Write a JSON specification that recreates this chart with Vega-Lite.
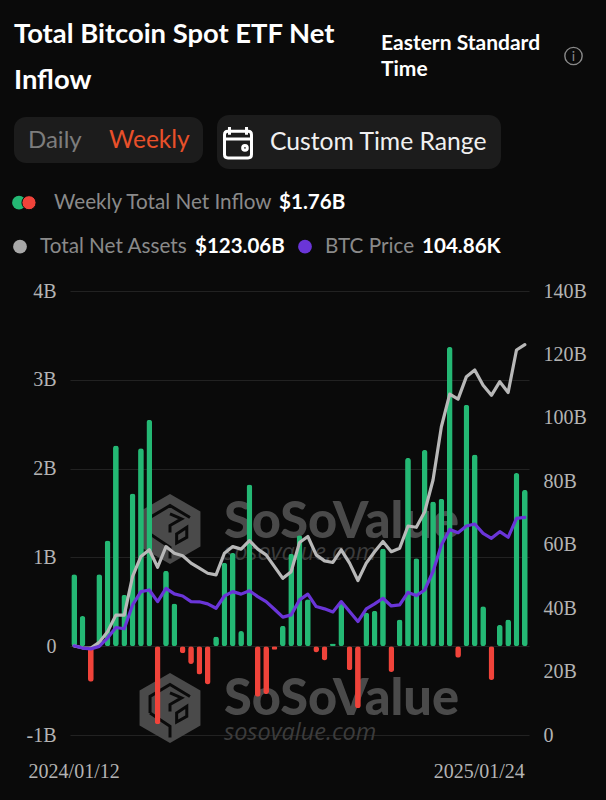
{
"$schema":"https://vega.github.io/schema/vega-lite/v6.json",
"width":459,"height":444,
"autosize":{"type":"none"},
"padding":{"left":70,"top":291,"right":77,"bottom":65},
"background":"#0a0a0a",
"config":{"view":{"stroke":null},"text":{"font":"Lato","baseline":"alphabetic","align":"left"}},
"datasets":{"weeks":[
{"week":"2024/01/12","flow":0.81,"assets":28.1,"price":43.0},
{"week":"2024/01/19","flow":0.34,"assets":27.5,"price":41.9},
{"week":"2024/01/26","flow":-0.40,"assets":27.4,"price":41.5},
{"week":"2024/02/02","flow":0.81,"assets":29.2,"price":42.7},
{"week":"2024/02/09","flow":1.19,"assets":32.6,"price":46.7},
{"week":"2024/02/16","flow":2.26,"assets":37.8,"price":51.8},
{"week":"2024/02/23","flow":0.58,"assets":37.8,"price":51.2},
{"week":"2024/03/01","flow":1.72,"assets":50.0,"price":62.7},
{"week":"2024/03/08","flow":2.23,"assets":56.3,"price":69.1},
{"week":"2024/03/15","flow":2.55,"assets":58.4,"price":69.9},
{"week":"2024/03/22","flow":-0.88,"assets":52.9,"price":64.3},
{"week":"2024/03/29","flow":0.85,"assets":59.4,"price":70.7},
{"week":"2024/04/05","flow":0.48,"assets":57.3,"price":68.0},
{"week":"2024/04/12","flow":-0.08,"assets":56.5,"price":67.0},
{"week":"2024/04/19","flow":-0.20,"assets":54.2,"price":64.3},
{"week":"2024/04/26","flow":-0.32,"assets":52.6,"price":64.2},
{"week":"2024/05/03","flow":-0.43,"assets":51.0,"price":63.2},
{"week":"2024/05/10","flow":0.11,"assets":50.5,"price":61.1},
{"week":"2024/05/17","flow":0.94,"assets":57.3,"price":67.0},
{"week":"2024/05/24","flow":1.05,"assets":59.4,"price":69.1},
{"week":"2024/05/31","flow":0.17,"assets":58.6,"price":67.9},
{"week":"2024/06/07","flow":1.82,"assets":61.3,"price":69.5},
{"week":"2024/06/14","flow":-0.57,"assets":58.6,"price":66.7},
{"week":"2024/06/21","flow":-0.54,"assets":56.8,"price":64.3},
{"week":"2024/06/28","flow":-0.04,"assets":53.1,"price":60.6},
{"week":"2024/07/05","flow":0.23,"assets":49.4,"price":56.8},
{"week":"2024/07/12","flow":1.04,"assets":51.5,"price":57.9},
{"week":"2024/07/19","flow":1.25,"assets":60.7,"price":65.1},
{"week":"2024/07/26","flow":0.53,"assets":62.6,"price":67.9},
{"week":"2024/08/02","flow":-0.07,"assets":56.8,"price":61.9},
{"week":"2024/08/09","flow":-0.16,"assets":54.9,"price":60.8},
{"week":"2024/08/16","flow":0.03,"assets":54.4,"price":59.3},
{"week":"2024/08/23","flow":0.48,"assets":58.4,"price":64.3},
{"week":"2024/08/30","flow":-0.27,"assets":54.2,"price":59.5},
{"week":"2024/09/06","flow":-0.70,"assets":48.7,"price":54.7},
{"week":"2024/09/13","flow":0.38,"assets":54.2,"price":60.8},
{"week":"2024/09/20","flow":0.40,"assets":57.8,"price":63.2},
{"week":"2024/09/27","flow":1.10,"assets":61.0,"price":65.9},
{"week":"2024/10/04","flow":-0.29,"assets":57.8,"price":62.2},
{"week":"2024/10/11","flow":0.30,"assets":58.9,"price":62.7},
{"week":"2024/10/18","flow":2.12,"assets":65.9,"price":68.7},
{"week":"2024/10/25","flow":0.99,"assets":65.5,"price":67.2},
{"week":"2024/11/01","flow":2.21,"assets":70.4,"price":69.9},
{"week":"2024/11/08","flow":1.63,"assets":80.4,"price":78.8},
{"week":"2024/11/15","flow":1.66,"assets":97.2,"price":91.6},
{"week":"2024/11/22","flow":3.37,"assets":107.5,"price":99.1},
{"week":"2024/11/29","flow":-0.13,"assets":105.9,"price":97.5},
{"week":"2024/12/06","flow":2.72,"assets":113.0,"price":100.7},
{"week":"2024/12/13","flow":2.16,"assets":115.1,"price":101.7},
{"week":"2024/12/20","flow":0.45,"assets":110.3,"price":97.2},
{"week":"2024/12/27","flow":-0.38,"assets":107.1,"price":94.8},
{"week":"2025/01/03","flow":0.24,"assets":111.4,"price":98.0},
{"week":"2025/01/10","flow":0.30,"assets":108.0,"price":95.3},
{"week":"2025/01/17","flow":1.95,"assets":121.4,"price":104.4},
{"week":"2025/01/24","flow":1.76,"assets":123.06,"price":104.86}
]},
"resolve":{"scale":{"y":"independent"},"axis":{"y":"independent"}},
"layer":[
{"data":{"values":[{"c":"logo"}]},"mark":{"type":"point","filled":true,"fill":"#4a4a4a","stroke":null,"opacity":1,"size":4900,"x":100,"y":238,"shape":"M0,-1L0.87,-0.5L0.87,0.5L0,1L-0.87,0.5L-0.87,-0.5Z"}},
{"data":{"values":[{"c":"logo"}]},"mark":{"type":"point","filled":true,"fill":"#4a4a4a","stroke":null,"opacity":1,"size":4900,"x":100,"y":417,"shape":"M0,-1L0.87,-0.5L0.87,0.5L0,1L-0.87,0.5L-0.87,-0.5Z"}},
{"data":{"values":[{"c":"logo"}]},"mark":{"type":"point","filled":false,"stroke":"#0a0a0a","strokeWidth":3,"opacity":1,"size":4900,"x":100,"y":238,"shape":"M-0.57,0.14L-0.57,-0.33L0,-0.67L0.57,-0.33M0,-0.43L0.33,-0.29L0,-0.1L0,0.1M-0.57,0.14L0,0.52L0,0.84M0.19,0.14L0.48,-0.05L0.48,0.24L0.19,0.4Z"}},
{"data":{"values":[{"c":"logo"}]},"mark":{"type":"point","filled":false,"stroke":"#0a0a0a","strokeWidth":3,"opacity":1,"size":4900,"x":100,"y":417,"shape":"M-0.57,0.14L-0.57,-0.33L0,-0.67L0.57,-0.33M0,-0.43L0.33,-0.29L0,-0.1L0,0.1M-0.57,0.14L0,0.52L0,0.84M0.19,0.14L0.48,-0.05L0.48,0.24L0.19,0.4Z"}},
{"data":{"values":[{"label":"SoSoValue"}]},"mark":{"type":"text","fontWeight":900,"fontSize":50.5,"fill":"#4a4a4a","x":154,"y":247},"encoding":{"text":{"field":"label"}}},
{"data":{"values":[{"label":"SoSoValue"}]},"mark":{"type":"text","fontWeight":900,"fontSize":50.5,"fill":"#4a4a4a","x":154,"y":424},"encoding":{"text":{"field":"label"}}},
{"data":{"values":[{"label":"sosovalue.com"}]},"mark":{"type":"text","font":"Open Sans","fontStyle":"italic","fontSize":23.5,"fill":"#3c3c3c","x":154,"y":269},"encoding":{"text":{"field":"label"}}},
{"data":{"values":[{"label":"sosovalue.com"}]},"mark":{"type":"text","font":"Open Sans","fontStyle":"italic","fontSize":23.5,"fill":"#3c3c3c","x":154,"y":449},"encoding":{"text":{"field":"label"}}},
{"data":{"name":"weeks"},"mark":{"type":"bar","cornerRadius":2.8},
 "encoding":{
  "x":{"field":"week","type":"ordinal","sort":null,"title":null,"scale":{"type":"band","paddingInner":0.31,"paddingOuter":0.155},
   "axis":{"values":["2024/01/12","2025/01/24"],"domain":false,"ticks":false,"labelAngle":0,"labelFont":"Liberation Serif","labelFontSize":20,"labelColor":"#b4b4b4","labelPadding":26,"labelOverlap":false,"labelBound":false,"labelAlign":{"condition":{"test":"datum.value==='2025/01/24'","value":"right"},"value":"center"},"grid":false}},
  "y":{"field":"flow","type":"quantitative","title":null,"scale":{"domain":[-1,4],"nice":false},
   "axis":{"orient":"left","values":[-1,0,1,2,3,4],"labelExpr":"datum.value===0?'0':datum.value+'B'","domain":false,"ticks":false,"labelFont":"Liberation Serif","labelFontSize":20,"labelColor":"#b4b4b4","labelPadding":14,"grid":true,"gridColor":"#222222","gridWidth":1.2}},
  "color":{"condition":{"test":"datum.flow<0","value":"#f0433a"},"value":"#24b874"}
 }},
{"data":{"name":"weeks"},"mark":{"type":"line","stroke":"#b8b8b8","strokeWidth":3.2,"strokeJoin":"round","strokeCap":"round"},
 "encoding":{
  "x":{"field":"week","type":"ordinal","sort":null,"title":null},
  "y":{"field":"assets","type":"quantitative","title":null,"scale":{"domain":[0,140],"nice":false},
   "axis":{"orient":"right","values":[0,20,40,60,80,100,120,140],"labelExpr":"datum.value===0?'0':datum.value+'B'","domain":false,"ticks":false,"grid":false,"labelFont":"Liberation Serif","labelFontSize":20,"labelColor":"#b4b4b4","labelPadding":14}}
 }},
{"data":{"name":"weeks"},"mark":{"type":"line","stroke":"#6a35d8","strokeWidth":3.2,"strokeJoin":"round","strokeCap":"round"},
 "encoding":{
  "x":{"field":"week","type":"ordinal","sort":null,"title":null},
  "y":{"field":"price","type":"quantitative","title":null,"scale":{"domain":[0,214],"nice":false},"axis":null}
 }},
{"data":{"values":[{"c":"a"}]},"mark":{"type":"rect","fill":"#1c1c1c","cornerRadius":12},"encoding":{"x":{"value":-56},"x2":{"value":133},"y":{"value":-174},"y2":{"value":-128}}},
{"data":{"values":[{"c":"b"}]},"mark":{"type":"rect","fill":"#1c1c1c","cornerRadius":12},"encoding":{"x":{"value":147},"x2":{"value":431},"y":{"value":-176},"y2":{"value":-122}}},
{"data":{"values":[{"label":"Total Bitcoin Spot ETF Net"}]},"mark":{"type":"text","fontWeight":"bold","fontSize":27.4,"fill":"#ffffff","x":-56,"y":-248},"encoding":{"text":{"field":"label"}}},
{"data":{"values":[{"label":"Inflow"}]},"mark":{"type":"text","fontWeight":"bold","fontSize":27.4,"fill":"#ffffff","x":-56,"y":-202},"encoding":{"text":{"field":"label"}}},
{"data":{"values":[{"label":"Eastern Standard"}]},"mark":{"type":"text","fontWeight":"bold","fontSize":21,"fill":"#ffffff","x":311,"y":-241},"encoding":{"text":{"field":"label"}}},
{"data":{"values":[{"label":"Time"}]},"mark":{"type":"text","fontWeight":"bold","fontSize":21,"fill":"#ffffff","x":311,"y":-215},"encoding":{"text":{"field":"label"}}},
{"data":{"values":[{"c":"info"}]},"mark":{"type":"point","shape":"circle","filled":false,"stroke":"#8a8a8a","strokeWidth":1.4,"opacity":1,"size":300,"x":503.5,"y":-235}},
{"data":{"values":[{"label":"i"}]},"mark":{"type":"text","fontSize":14,"align":"center","fill":"#8a8a8a","x":503.5,"y":-230},"encoding":{"text":{"field":"label"}}},
{"data":{"values":[{"label":"Daily"}]},"mark":{"type":"text","fontSize":24,"fill":"#7d7d7d","x":-42,"y":-143},"encoding":{"text":{"field":"label"}}},
{"data":{"values":[{"label":"Weekly"}]},"mark":{"type":"text","fontSize":24.5,"fill":"#e8502a","x":39,"y":-143},"encoding":{"text":{"field":"label"}}},
{"data":{"values":[{"c":"cal"}]},"mark":{"type":"point","filled":false,"stroke":"#ffffff","strokeWidth":3,"opacity":1,"size":961,"x":168,"y":-148.5,"shape":"M-0.65,-0.72L0.65,-0.72Q0.87,-0.72 0.87,-0.5L0.87,0.78Q0.87,1 0.65,1L-0.65,1Q-0.87,1 -0.87,0.78L-0.87,-0.5Q-0.87,-0.72 -0.65,-0.72ZM-0.87,-0.22L0.87,-0.22M-0.55,-1L-0.55,-0.5M0.55,-1L0.55,-0.5M0.3,0.35A0.15,0.15 0 1 0 0.6,0.35A0.15,0.15 0 1 0 0.3,0.35Z"}},
{"data":{"values":[{"label":"Custom Time Range"}]},"mark":{"type":"text","fontSize":24.7,"fill":"#f0f0f0","x":200,"y":-141},"encoding":{"text":{"field":"label"}}},
{"data":{"values":[{"c":"green"}]},"mark":{"type":"point","shape":"circle","filled":true,"fill":"#24b874","stroke":null,"opacity":1,"size":190,"x":-51,"y":-88.3}},
{"data":{"values":[{"c":"red"}]},"mark":{"type":"point","shape":"circle","filled":true,"fill":"#f0433a","stroke":"#0a0a0a","strokeWidth":1,"opacity":1,"size":200,"x":-41,"y":-88.3}},
{"data":{"values":[{"label":"Weekly Total Net Inflow"}]},"mark":{"type":"text","fontSize":20.7,"fill":"#8a8a8a","x":-16,"y":-82},"encoding":{"text":{"field":"label"}}},
{"data":{"values":[{"label":"$1.76B"}]},"mark":{"type":"text","fontSize":20.6,"fontWeight":"bold","fill":"#ffffff","x":209,"y":-82},"encoding":{"text":{"field":"label"}}},
{"data":{"values":[{"c":"gray"}]},"mark":{"type":"point","shape":"circle","filled":true,"fill":"#a8a8a8","stroke":null,"opacity":1,"size":190,"x":-50,"y":-44.3}},
{"data":{"values":[{"label":"Total Net Assets"}]},"mark":{"type":"text","fontSize":20.7,"fill":"#8a8a8a","x":-30,"y":-38},"encoding":{"text":{"field":"label"}}},
{"data":{"values":[{"label":"$123.06B"}]},"mark":{"type":"text","fontSize":20.5,"fontWeight":"bold","fill":"#ffffff","x":125,"y":-38},"encoding":{"text":{"field":"label"}}},
{"data":{"values":[{"c":"purple"}]},"mark":{"type":"point","shape":"circle","filled":true,"fill":"#6a35d8","stroke":null,"opacity":1,"size":190,"x":235,"y":-44.3}},
{"data":{"values":[{"label":"BTC Price"}]},"mark":{"type":"text","fontSize":20.7,"fill":"#8a8a8a","x":255,"y":-38},"encoding":{"text":{"field":"label"}}},
{"data":{"values":[{"label":"104.86K"}]},"mark":{"type":"text","fontSize":20.6,"fontWeight":"bold","fill":"#ffffff","x":352,"y":-38},"encoding":{"text":{"field":"label"}}}
]
}
